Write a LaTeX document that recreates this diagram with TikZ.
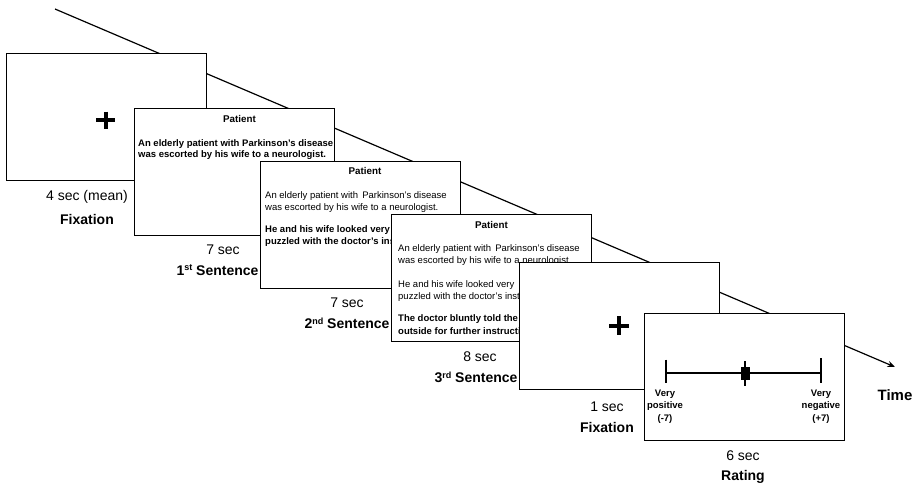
\documentclass[tikz,border=0pt]{standalone}
\usepackage{fontspec}
\setmainfont{Liberation Sans}
\usetikzlibrary{arrows.meta}
\newcommand{\mysup}[1]{\raisebox{4.5pt}{\fontsize{9}{9}\selectfont #1}}
\begin{document}
\begin{tikzpicture}[x=1pt,y=-1pt,
  frame/.style={draw=black, line width=1.4pt, fill=white, minimum width=200pt, minimum height=127pt, anchor=north west, inner sep=0pt},
  body/.style={font=\fontsize{9.5}{11}\selectfont, anchor=base west, inner sep=0pt},
  bbody/.style={font=\fontsize{9.5}{11}\selectfont\bfseries, anchor=base west, inner sep=0pt},
  ttl/.style={font=\fontsize{9.8}{12}\selectfont\bfseries, anchor=base, inner sep=0pt},
  dur/.style={font=\fontsize{14}{16}\selectfont, anchor=base, inner sep=0pt},
  phase/.style={font=\fontsize{14}{16}\selectfont\bfseries, anchor=base, inner sep=0pt},
  scl/.style={font=\fontsize{9.5}{11}\selectfont\bfseries, anchor=base, inner sep=0pt},
  plusbar/.style={line width=4pt},
  tick/.style={line width=1.6pt}]
\useasboundingbox (0,0) rectangle (918,485);
% time line
\coordinate (ts) at (55,9);
\coordinate (te) at (895,367);
\draw[line width=1.2pt, -{Stealth[length=7.5pt,width=6pt]}] (ts) -- (te);
\node[font=\fontsize{15}{17}\selectfont\bfseries, anchor=base, inner sep=0pt] (time) at (895,400) {Time};

% box 1: fixation
\node[frame] (b1) at (6,53) {};
\draw[plusbar] (96,120) -- (115,120);
\draw[plusbar] (105.5,111.5) -- (105.5,128.5);
\node[dur] (d1) at (87,200) {4 sec (mean)};
\node[phase] (l1) at (87,224) {Fixation};

% box 2: 1st sentence
\node[frame] (b2) at (134,108) {};
\node[ttl] (p2) at (239.5,122.5) {Patient};
\node[bbody] (b2a) at (138,146.2) {An elderly patient with Parkinson's disease};
\node[bbody] (b2b) at (138,157.5) {was escorted by his wife to a neurologist.};
\node[dur] (d2) at (223,254) {7 sec};
\node[phase] (l2) at (217.5,275) {1\mysup{st} Sentence};

% box 3: 2nd sentence
\node[frame] (b3) at (260,161) {};
\node[ttl] (p3) at (365,174.5) {Patient};
\node[body] (b3a) at (265,198.5) {An elderly patient with\, Parkinson's disease};
\node[body] (b3b) at (265,210.5) {was escorted by his wife to a neurologist.};
\node[bbody] (b3c) at (265,232.5) {He and his wife looked very};
\node[bbody] (b3d) at (265,244.5) {puzzled with the doctor's instructions.};
\node[dur] (d3) at (347,307) {7 sec};
\node[phase] (l3) at (347,328.5) {2\mysup{nd} Sentence};

% box 4: 3rd sentence
\node[frame] (b4) at (391,214) {};
\node[ttl] (p4) at (491.5,228.5) {Patient};
\node[body] (b4a) at (398,251.5) {An elderly patient with\, Parkinson's disease};
\node[body] (b4b) at (398,263.5) {was escorted by his wife to a neurologist.};
\node[body] (b4c) at (398,287.5) {He and his wife looked very};
\node[body] (b4d) at (398,299.5) {puzzled with the doctor's instructions.};
\node[bbody] (b4e) at (398,321.5) {The doctor bluntly told the};
\node[bbody] (b4f) at (398,334.5) {outside for further instructions.};
\node[dur] (d4) at (480,361) {8 sec};
\node[phase] (l4) at (476,382.5) {3\mysup{rd} Sentence};

% box 5: fixation
\node[frame] (b5) at (519,262) {};
\draw[plusbar] (609,325.5) -- (629,325.5);
\draw[plusbar] (619,316) -- (619,335);
\node[dur] (d5) at (607,411) {1 sec};
\node[phase] (l5) at (607,432) {Fixation};

% box 6: rating
\node[frame] (b6) at (644,313) {};
\coordinate (sl) at (666,373);
\coordinate (sr) at (821,373);
\draw[line width=1.5pt] (sl) -- (sr);
\draw[tick] (666,359.5) -- (666,383);
\draw[tick] (821,358) -- (821,383);
\draw[tick] (745,361) -- (745,386);
\fill (741,367) rectangle (749.5,380);
\node[scl] (v1) at (665,396) {Very};
\node[scl] (v2) at (665,408.5) {positive};
\node[scl] (v3) at (665,421) {(-7)};
\node[scl] (w1) at (821,396) {Very};
\node[scl] (w2) at (821,408.5) {negative};
\node[scl] (w3) at (821,421) {(+7)};
\node[dur] (d6) at (743,460) {6 sec};
\node[phase] (l6) at (743,480) {Rating};
\end{tikzpicture}
\end{document}
